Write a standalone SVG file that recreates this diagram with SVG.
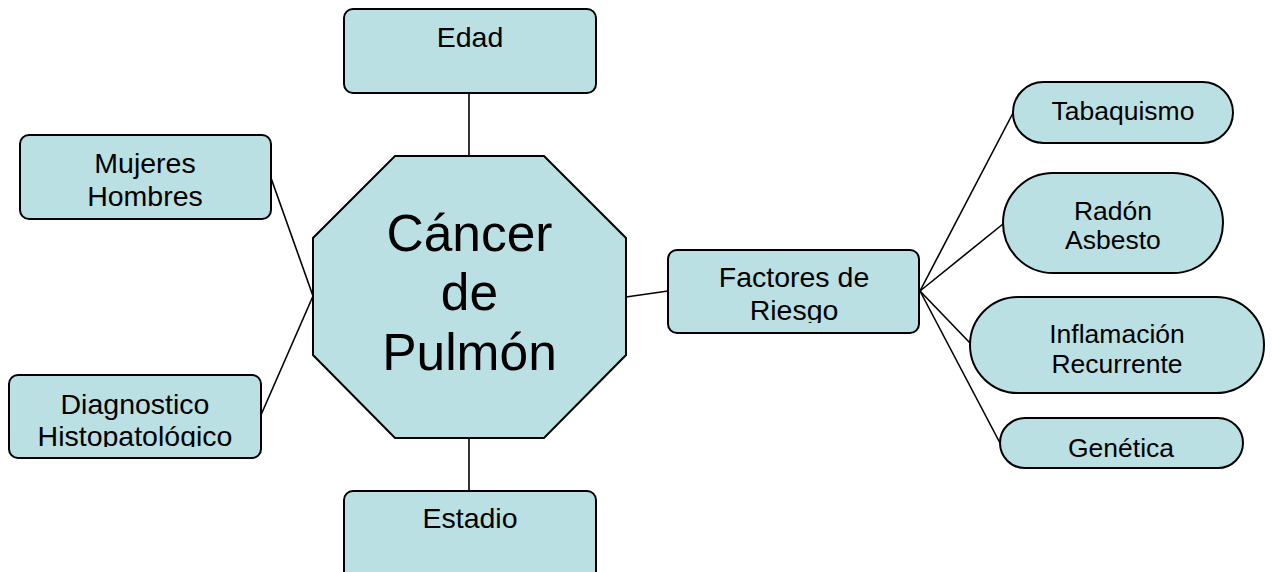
<svg xmlns="http://www.w3.org/2000/svg" width="1273" height="572" viewBox="0 0 1273 572">
<style>
.shape{fill:#BBE0E3;stroke:#000;stroke-width:2}
.t{font-family:"Liberation Sans",Arial,sans-serif;fill:#000;text-anchor:middle}
.r{font-size:28.5px}
.s{font-size:26.5px}
.big{font-size:51.5px}
.c{stroke:#000;stroke-width:1.6;fill:none}
</style>
<defs>
<clipPath id="clipDiag"><rect x="0" y="370" width="270" height="77"/></clipPath>
<clipPath id="clipFact"><rect x="660" y="245" width="270" height="78"/></clipPath>
</defs>
<rect width="1273" height="572" fill="#fff"/>
<g id="connectors">
<line class="c" x1="469" y1="93" x2="469" y2="156"/>
<line class="c" x1="469" y1="438" x2="469" y2="491"/>
<line class="c" x1="271" y1="178" x2="313" y2="296"/>
<line class="c" x1="261" y1="415" x2="313" y2="296"/>
<line class="c" x1="626" y1="297" x2="668" y2="291"/>
<line class="c" x1="920" y1="291" x2="1013" y2="113"/>
<line class="c" x1="920" y1="291" x2="1003" y2="224"/>
<line class="c" x1="920" y1="291" x2="970" y2="343"/>
<line class="c" x1="920" y1="291" x2="1000" y2="443"/>
</g>
<g id="cancer">
<polygon class="shape" points="395,156 544,156 626,238 626,355 544,438 395,438 313,355 313,238"/>
<text class="t big" x="469.5" y="251">Cáncer</text>
<text class="t big" x="469.5" y="310">de</text>
<text class="t big" x="469.5" y="370">Pulmón</text>
</g>
<g id="edad">
<rect class="shape" x="344" y="9" width="252" height="84" rx="9"/>
<text class="t r" x="470" y="47">Edad</text>
</g>
<g id="estadio">
<rect class="shape" x="344" y="491" width="252" height="90" rx="9"/>
<text class="t r" x="470" y="528">Estadio</text>
</g>
<g id="mujeres">
<rect class="shape" x="20" y="135" width="251" height="84" rx="9"/>
<text class="t r" x="145" y="173">Mujeres</text>
<text class="t r" x="145" y="206">Hombres</text>
</g>
<g id="diagnostico">
<rect class="shape" x="9" y="375" width="252" height="83" rx="9"/>
<g clip-path="url(#clipDiag)">
<text class="t r" x="135" y="414">Diagnostico</text>
<text class="t r" x="135" y="446">Histopatológico</text>
</g>
</g>
<g id="factores">
<rect class="shape" x="668" y="250" width="251" height="83" rx="9"/>
<g clip-path="url(#clipFact)">
<text class="t r" x="794" y="287">Factores de</text>
<text class="t r" x="794" y="320">Riesgo</text>
</g>
</g>
<g id="tabaquismo">
<rect class="shape" x="1013" y="82" width="220" height="61" rx="30.5"/>
<text class="t s" x="1123" y="120">Tabaquismo</text>
</g>
<g id="radon">
<rect class="shape" x="1003" y="173" width="220" height="100" rx="50"/>
<text class="t s" x="1113" y="220">Radón</text>
<text class="t s" x="1113" y="249">Asbesto</text>
</g>
<g id="inflamacion">
<rect class="shape" x="970" y="297" width="294" height="96" rx="48"/>
<text class="t s" x="1117" y="343">Inflamación</text>
<text class="t s" x="1117" y="373">Recurrente</text>
</g>
<g id="genetica">
<rect class="shape" x="1000" y="418" width="243" height="50" rx="25"/>
<text class="t s" x="1121" y="457">Genética</text>
</g>
</svg>
